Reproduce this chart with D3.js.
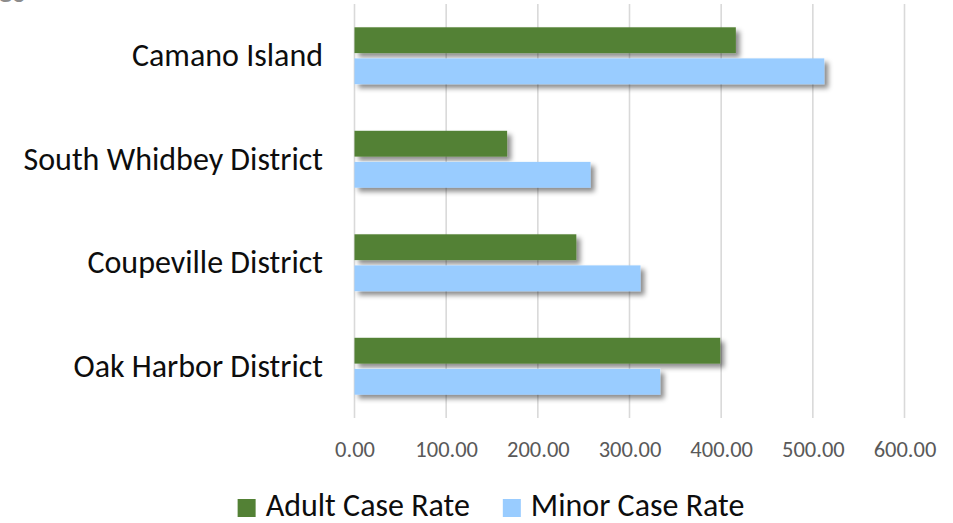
<!DOCTYPE html>
<html>
<head>
<meta charset="utf-8">
<script src="https://cdn.jsdelivr.net/npm/d3@7"></script>
<style>
  body { margin: 0; background: #fff; }
  svg { display: block; font-family: Carlito, Calibri, Lato, sans-serif; }
</style>
</head>
<body>
<div id="chart"></div>
<script>
var categories = ["Camano Island", "South Whidbey District", "Coupeville District", "Oak Harbor District"];
var seriesNames = ["Adult Case Rate", "Minor Case Rate"];
var adultRates = [416, 166.5, 242, 399];
var minorRates = [512.5, 257.5, 312, 333.5];
var xTicks = [0, 100, 200, 300, 400, 500, 600];

var width = 953, height = 523,
    colors = ["#538135", "#99ccff"];

var svg = d3.select("#chart")
    .append("svg")
      .attr("width", width)
      .attr("height", height);

// drop shadow like the excel bars
var filter = svg.append("defs").append("filter")
    .attr("id", "shadow")
    .attr("x", "-10%").attr("y", "-30%")
    .attr("width", "130%").attr("height", "180%");
filter.append("feDropShadow")
    .attr("dx", 4).attr("dy", 4)
    .attr("stdDeviation", 2.5)
    .attr("flood-color", "#000")
    .attr("flood-opacity", 0.45);

// cut-off title fragment at the very top
svg.append("text")
    .attr("x", -3).attr("y", 2)
    .style("font-size", "32px")
    .style("fill", "#8c8c8c")
    .text("es");

var x = d3.scaleLinear()
    .domain([0, 600])
    .range([354.5, 904.5]);

var y = d3.scaleBand()
    .domain(categories)
    .range([4, 418])
    .paddingInner(0.45)
    .paddingOuter(0.225);

var ySub = d3.scaleBand()
    .domain(seriesNames)
    .range([0, y.bandwidth()])
    .paddingInner(0.17);

// gridlines
svg.append("g")
    .selectAll("line")
    .data(xTicks)
    .join("line")
      .attr("x1", function(d){ return x(d); })
      .attr("x2", function(d){ return x(d); })
      .attr("y1", 4)
      .attr("y2", 418)
      .style("stroke", "#d9d9d9")
      .style("stroke-width", 1.6);

// x axis labels
var xAxis = d3.axisBottom(x)
    .tickValues(xTicks)
    .tickSize(0)
    .tickPadding(0)
    .tickFormat(d3.format(".2f"));

var gx = svg.append("g")
    .attr("transform", "translate(0,441)")
    .call(xAxis);
gx.select(".domain").remove();
gx.selectAll("text")
    .style("font-size", "22.5px")
    .style("font-family", "Carlito, Calibri, Lato, sans-serif")
    .style("fill", "#595959");

// category labels
var yAxis = d3.axisLeft(y).tickSize(0).tickPadding(0);
var gy = svg.append("g")
    .attr("transform", "translate(323,0)")
    .call(yAxis);
gy.select(".domain").remove();
gy.selectAll("text")
    .style("font-size", "32px")
    .style("font-family", "Carlito, Calibri, Lato, sans-serif")
    .style("fill", "#0d0d0d");

// bars
var rows = categories.map(function(c, i){
    return [
        {cat: c, s: seriesNames[0], v: adultRates[i], c: colors[0]},
        {cat: c, s: seriesNames[1], v: minorRates[i], c: colors[1]}
    ];
});

svg.append("g")
    .attr("filter", "url(#shadow)")
    .selectAll("g")
    .data(rows)
    .join("g")
      .attr("transform", function(d){ return "translate(0," + y(d[0].cat) + ")"; })
    .selectAll("rect")
    .data(function(d){ return d; })
    .join("rect")
      .attr("x", x(0))
      .attr("y", function(d){ return ySub(d.s); })
      .attr("width", function(d){ return x(d.v) - x(0); })
      .attr("height", ySub.bandwidth())
      .style("fill", function(d){ return d.c; });

// legend
var legend = svg.append("g");
var items = legend.selectAll("g")
    .data(seriesNames)
    .join("g");
items.append("rect")
    .attr("width", 18).attr("height", 18)
    .attr("y", 499)
    .style("fill", function(d, i){ return colors[i]; });
items.append("text")
    .attr("x", 28)
    .attr("y", 516)
    .style("font-size", "32px")
    .style("fill", "#0d0d0d")
    .text(function(d){ return d; });

var pos = 0, offsets = [];
items.each(function(){
    offsets.push(pos);
    pos += this.getBBox().width + 33;
});
var total = pos - 33,
    start = 491 - total / 2;
items.attr("transform", function(d, i){ return "translate(" + (start + offsets[i]) + ",0)"; });
</script>
</body>
</html>
